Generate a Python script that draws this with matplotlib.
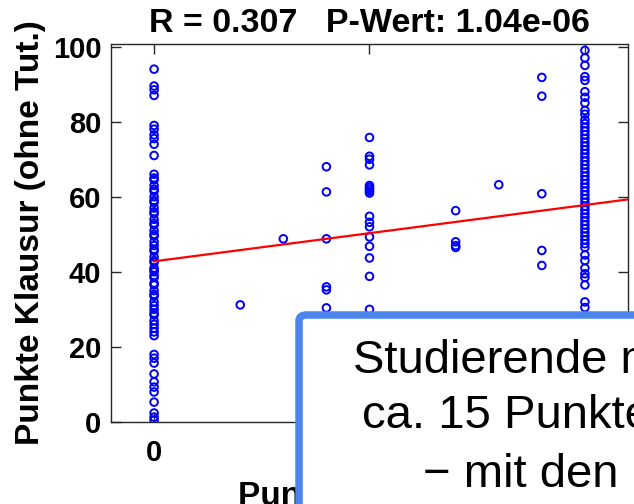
import matplotlib.pyplot as plt
from matplotlib.patches import FancyBboxPatch
import numpy as np

plt.rcParams['font.family'] = ['Liberation Sans', 'DejaVu Sans']

# Tutorium points (x) and exam points (y), one list per x column
y_at_0 = [94, 89.5, 88.5, 87, 79, 78, 76.5, 75.5, 74, 71,
          66, 65, 64.5, 63, 62, 61.5, 60, 59, 58.5, 57, 56, 55.5, 54, 53,
          52.5, 51, 50, 49.5, 48, 47, 46, 45.5, 44, 43, 42.5, 41, 40.5, 40,
          39, 38.5, 37, 36.5, 35, 34, 33.5, 32, 31, 30, 29, 28.5, 27, 26,
          25, 24, 23, 18, 17, 15.7, 12.8, 10.7, 9.3, 8, 5.3, 2.4, 1.3, 0.5]
y_at_2 = [31.2]
y_at_3 = [48.8]
y_at_4 = [68, 61.3, 48.8, 36, 35.2, 30.4, 25, 20]
y_at_5 = [75.8, 70.8, 70, 68.5, 63, 62.5, 62, 61.5, 61, 54.8, 53.2, 52,
          49.3, 46.8, 43.7, 38.8, 30, 25]
y_at_7 = [56.3, 48, 47, 46.5]
y_at_8 = [63.2]
y_at_9 = [91.8, 86.8, 60.8, 45.7, 41.7]
y_at_10 = [99, 97, 95, 92, 91, 88, 86.5, 85, 83, 82, 80.5, 79.5, 78.5,
           77.5, 76.5, 75.5, 74.5, 73.5, 72.5, 71.5, 70.5, 69.5, 68.5, 67.5,
           66.5, 65.5, 64.5, 63.5, 62.5, 61.5, 60.5, 59.5, 58.5, 57.5, 56.5,
           55.5, 54.5, 53.5, 52.5, 51.5, 50.5, 49.5, 48.5, 47.5, 46.5,
           44.5, 43, 41, 39.5, 38.5, 36.5, 32, 30.5, 28, 25, 20, 15, 10]
columns = {0: y_at_0, 2: y_at_2, 3: y_at_3, 4: y_at_4, 5: y_at_5,
           7: y_at_7, 8: y_at_8, 9: y_at_9, 10: y_at_10}

# regression line end points
fit_x = [0, 11]
fit_y = [42.8, 59.3]

title = 'R = 0.307   P-Wert: 1.04e-06'
box_lines = ['Studierende mit', 'ca. 15 Punkten', '\u2212 mit den']

xs = np.concatenate([[k] * len(v) for k, v in columns.items()])
ys = np.concatenate([v for v in columns.values()])

fig = plt.figure(figsize=(6.34, 5.04), dpi=100)
ax = fig.add_axes([111 / 634, 82 / 504, 517 / 634, 378 / 504])

ax.scatter(xs, ys, s=30, facecolors='none', edgecolors='blue', linewidths=1.4, zorder=3)
ax.plot(fit_x, fit_y, color='red', lw=1.6, zorder=4)

ax.set_xlim(-1, 11)
ax.set_ylim(0, 100.7)
ax.set_xticks([0, 5, 10])
ax.set_yticks([0, 20, 40, 60, 80, 100])
ax.tick_params(direction='in', length=7, width=1, colors='#262626',
               top=True, right=True, labelsize=21)
ax.tick_params(axis='x', pad=12)
ax.tick_params(axis='y', pad=7)
for lab in ax.get_xticklabels() + ax.get_yticklabels():
    lab.set_fontweight('bold')
    lab.set_color('black')
for sp in ax.spines.values():
    sp.set_color('#262626')
    sp.set_linewidth(1)

ax.set_title(title, fontsize=24.5, fontweight='bold', pad=9)
ax.set_ylabel('Punkte Klausur (ohne Tut.)', fontsize=24, fontweight='bold', labelpad=5)
ax.set_xlabel('Punkte Tutorium', fontsize=24, fontweight='bold', labelpad=10)

# overlay box in figure coordinates
box = FancyBboxPatch((299 / 634, -0.2), 0.7, 0.2 + (504 - 315) / 504,
                     boxstyle='round,pad=0,rounding_size=0.012',
                     transform=fig.transFigure, facecolor='white',
                     edgecolor='#4a86ec', linewidth=5.4, zorder=5, clip_on=False)
fig.add_artist(box)

line_x = [353, 362, 423]
line_base = [373, 428, 487]
for txt, lx, by in zip(box_lines, line_x, line_base):
    fig.text(lx / 634, (504 - by) / 504, txt, fontsize=34, va='baseline',
             ha='left', zorder=6)

fig.savefig('out.png', dpi=100)
